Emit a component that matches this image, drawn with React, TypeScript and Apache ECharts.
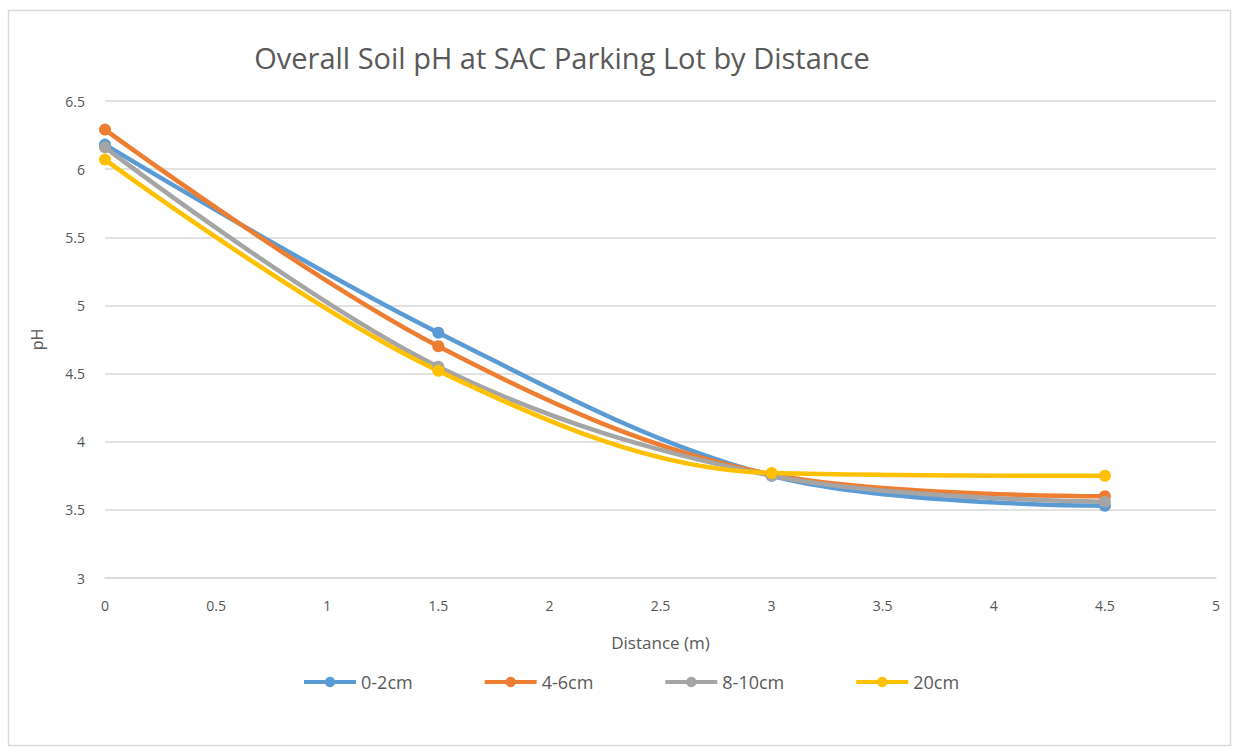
import React, { useEffect, useRef } from "react";
import * as echarts from "echarts";

const distances = [0, 1.5, 3, 4.5];
const seriesNames = ["0-2cm", "4-6cm", "8-10cm", "20cm"];
const ph02 = [6.18, 4.8, 3.75, 3.53];
const ph46 = [6.29, 4.7, 3.76, 3.6];
const ph810 = [6.16, 4.55, 3.75, 3.56];
const ph20 = [6.07, 4.52, 3.77, 3.75];
const colors = ["#5B9BD5", "#ED7D31", "#A5A5A5", "#FFC000"];

export default function App() {
  const ref = useRef<HTMLDivElement>(null);
  useEffect(() => {
    if (!ref.current) return;
    const chart = echarts.init(ref.current, undefined, { renderer: "svg" });
    const all = [ph02, ph46, ph810, ph20];
    const font = "'Open Sans', 'Noto Sans', sans-serif";
    chart.setOption({
      animation: false,
      backgroundColor: "#ffffff",
      textStyle: { fontFamily: font },
      graphic: [
        {
          type: "rect",
          shape: { x: 8.5, y: 10.5, width: 1222, height: 735 },
          style: { fill: "none", stroke: "#d9d9d9", lineWidth: 1.5 },
          silent: true,
        },
      ],
      title: {
        text: "Overall Soil pH at SAC Parking Lot by Distance",
        left: 557,
        top: 38,
        textAlign: "center",
        textStyle: { fontSize: 29, fontWeight: "normal", color: "#595959", fontFamily: font },
      },
      grid: { left: 105, right: 20, top: 101, bottom: 170 },
      xAxis: {
        type: "value",
        min: 0,
        max: 5,
        interval: 0.5,
        name: "Distance (m)",
        nameLocation: "middle",
        nameGap: 56,
        nameTextStyle: { fontSize: 17, color: "#595959" },
        axisLine: { lineStyle: { color: "#d9d9d9", width: 1.5 } },
        axisTick: { show: false },
        axisLabel: { fontSize: 14, color: "#555555", margin: 20 },
        splitLine: { show: false },
      },
      yAxis: {
        type: "value",
        min: 3,
        max: 6.5,
        interval: 0.5,
        name: "pH",
        nameLocation: "middle",
        nameGap: 60,
        nameTextStyle: { fontSize: 16, color: "#595959" },
        axisLine: { show: false },
        axisTick: { show: false },
        axisLabel: { fontSize: 14, color: "#555555", margin: 20 },
        splitLine: { lineStyle: { color: "#d9d9d9", width: 1.5 } },
      },
      legend: {
        bottom: 52,
        left: 297,
        itemWidth: 52,
        itemHeight: 13,
        itemGap: 70,
        textStyle: { fontSize: 18, color: "#595959" },
        lineStyle: { width: 4 },
        data: seriesNames,
      },
      series: all.map((vals, i) => ({
        name: seriesNames[i],
        type: "line",
        smooth: 0.35,
        data: distances.map((d, j) => [d, vals[j]]),
        color: colors[i],
        lineStyle: { width: 4.5, color: colors[i] },
        symbol: "circle",
        symbolSize: 12,
        itemStyle: { color: colors[i] },
      })),
    });
    return () => chart.dispose();
  }, []);
  return (
    <div
      ref={ref}
      style={{ position: "fixed", left: 0, top: 0, width: 1236, height: 748 }}
    />
  );
}
